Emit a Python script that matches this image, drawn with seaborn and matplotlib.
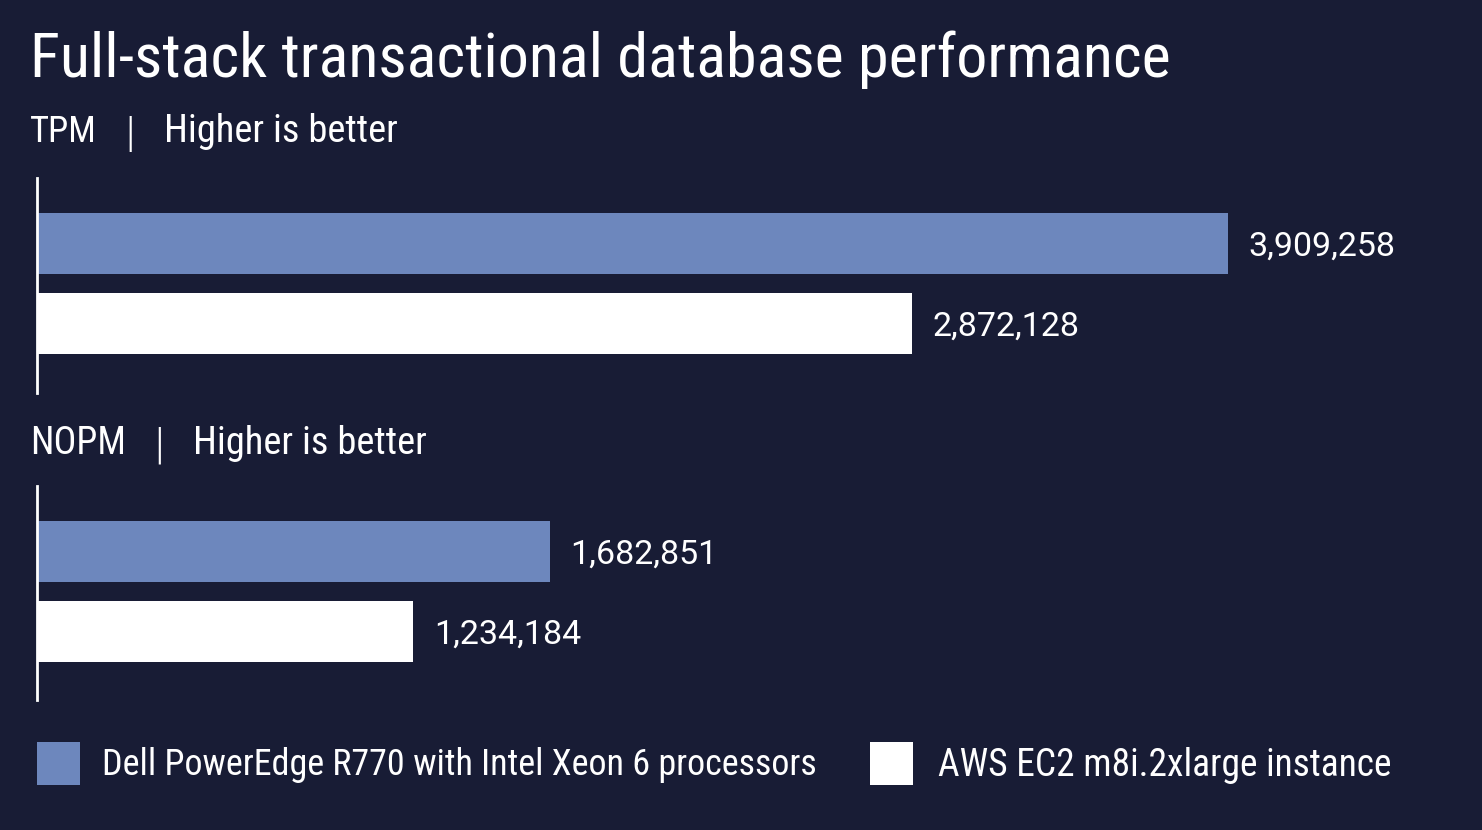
import numpy as np
import pandas as pd
import seaborn as sns
import matplotlib
matplotlib.use("Agg")
import matplotlib.pyplot as plt
from matplotlib.patches import Rectangle

# ---- data ----
title = "Full-stack transactional database performance"
metrics = ["TPM", "NOPM"]
note = "Higher is better"
systems = ["Dell PowerEdge R770 with Intel Xeon 6 processors", "AWS EC2 m8i.2xlarge instance"]
legend_bold = ["Dell PowerEdge R770", "AWS EC2 m8i.2xlarge instance"]
legend_rest = [" with Intel Xeon 6 processors", ""]
tpm_values = [3909258, 2872128]
nopm_values = [1682851, 1234184]

BG = "#181c35"
BLUE = "#6d87bd"
WHITE = "#ffffff"

sns.set_theme(style="white")
plt.rcParams["font.family"] = ["Roboto Condensed", "Roboto", "DejaVu Sans"]
NUMFONT = ["Roboto", "DejaVu Sans"]

W, H = 1482, 830
fig = plt.figure(figsize=(W / 100, H / 100), dpi=100, facecolor=BG)


def fx(px):
    return px / W


def fy(py):
    return 1 - py / H


xmax = tpm_values[0] * 1445 / 1191

panels = [
    (metrics[0], tpm_values, 178, 393, 132),
    (metrics[1], nopm_values, 486, 700, 443),
]

fig.canvas.draw()
renderer = fig.canvas.get_renderer()


def fit(texts, target_w):
    fig.canvas.draw()
    total = sum(t.get_window_extent(renderer).width for t in texts)
    for t in texts:
        t.set_fontsize(t.get_fontsize() * target_w / total)


for metric, vals, top, bot, sub_y in panels:
    ax = fig.add_axes([fx(37), fy(bot), fx(1445), (bot - top) / H])
    ax.set_facecolor(BG)
    df = pd.DataFrame({"metric": metric, "system": systems, "value": vals})
    sns.barplot(data=df, x="value", y="metric", hue="system", hue_order=systems,
                palette=[BLUE, WHITE], width=0.8, gap=0.2375, saturation=1,
                linewidth=0, legend=False, ax=ax)
    ax.set_xlim(0, xmax)
    unit = 160 / 0.8
    ax.set_ylim((bot - top - 105.5) / unit, -105.5 / unit)
    for s in ["top", "right", "bottom"]:
        ax.spines[s].set_visible(False)
    ax.spines["left"].set_color(WHITE)
    ax.spines["left"].set_linewidth(2)
    ax.set_xticks([])
    ax.set_yticks([])
    ax.set_xlabel("")
    ax.set_ylabel("")
    for c in ax.containers:
        labels = ax.bar_label(c, fmt="{:,.0f}", padding=15, color=WHITE, fontsize=24.5,
                              family=NUMFONT)
        for lb in labels:
            lb.set_y(-2)
    # subtitle
    t1 = fig.text(fx(30), fy(sub_y), metric, color=WHITE, fontsize=26, va="center")
    fit([t1], 67 if metric == "TPM" else 96)
    bar_x = 130 if metric == "TPM" else 159
    fig.text(fx(bar_x), fy(sub_y + 3), "|", color=WHITE, fontsize=t1.get_fontsize() * 1.15,
             va="center", ha="center", fontweight="light")
    t2 = fig.text(fx(bar_x + 34), fy(sub_y), note, color=WHITE, fontsize=26, va="center")
    fit([t2], 234)

# title
tt = fig.text(fx(30), fy(60), title, color=WHITE, fontsize=46, va="center")
fit([tt], 1140)

# legend
leg_x = [(37, 102, 817), (870, 938, 1393)]
for (sx, tx, tend), col, b, r in zip(leg_x, [BLUE, WHITE], legend_bold, legend_rest):
    fig.add_artist(Rectangle((fx(sx), fy(785)), fx(43), 43 / H,
                             transform=fig.transFigure, facecolor=col, edgecolor="none"))
    ta = fig.text(fx(tx), fy(765), b, color=WHITE, fontsize=22, va="center",
                  fontweight="normal")
    parts = [ta]
    if r:
        fig.canvas.draw()
        wa = ta.get_window_extent(renderer)
        tb = fig.text(wa.x1 / W, fy(765), r, color=WHITE, fontsize=22, va="center",
                      fontweight="normal")
        parts.append(tb)
    fit(parts, tend - tx)
    if r:
        fig.canvas.draw()
        wa = ta.get_window_extent(renderer)
        tb.set_x(wa.x1 / W)

fig.savefig("out.png", dpi=100, facecolor=BG)
